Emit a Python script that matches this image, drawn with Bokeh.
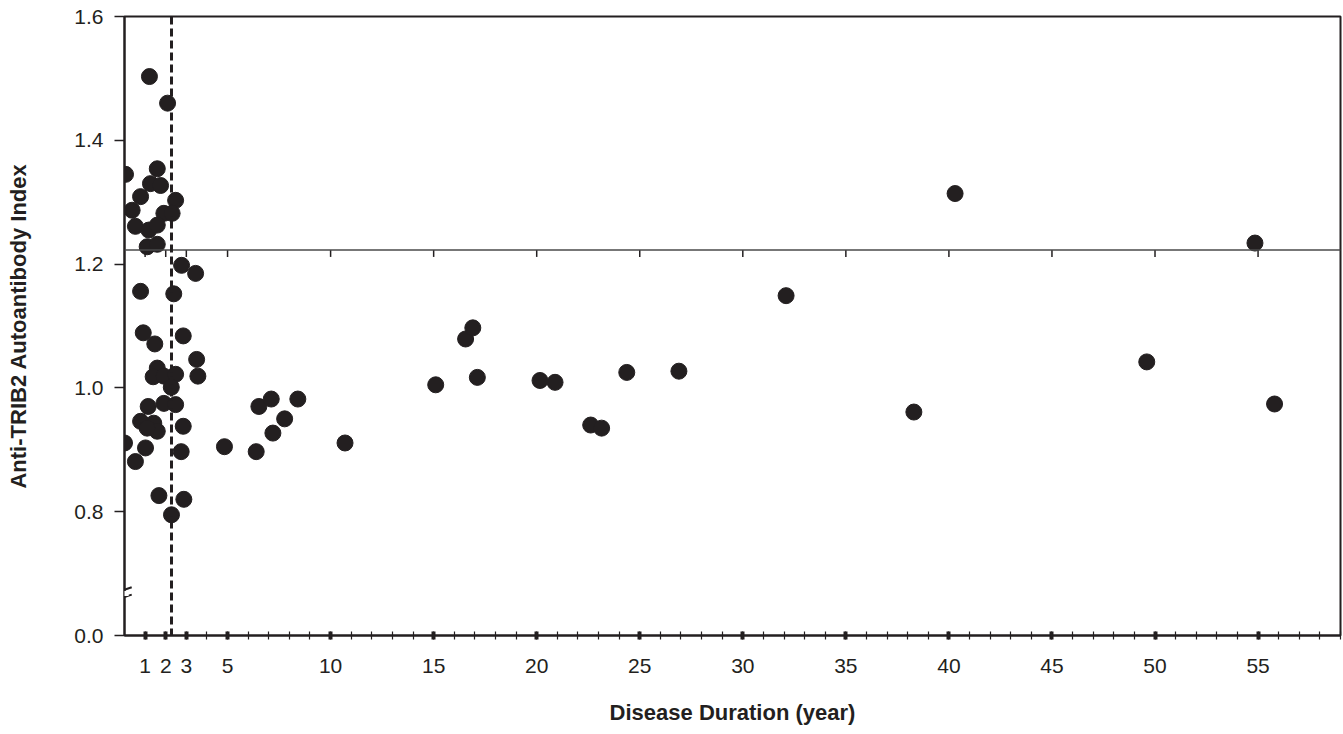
from bokeh.plotting import figure
from bokeh.models import FixedTicker, Span, Arrow, BoxAnnotation
from bokeh.embed import file_html
from bokeh.resources import INLINE

# ---- data ----
duration_years = [
    0.05, 1.59, 1.26, 1.75, 0.78, 2.48, 0.37, 1.91, 2.31, 0.53, 1.18, 1.59, 1.10, 1.59, 1.21, 2.09,
    2.77, 3.45, 0.78, 2.39, 0.91, 1.47, 2.85, 3.50, 3.56, 1.59, 1.39, 1.91, 2.48, 2.27,
    1.91, 2.48, 1.15, 0.78, 1.42, 1.59, 1.10, 2.85, 0.00, 1.02, 0.53, 2.75, 1.67, 2.88, 2.28,
    4.85, 6.39, 6.52, 7.12, 8.41, 7.77, 7.20, 10.7, 15.1, 16.55, 16.9, 17.12, 20.16, 20.89,
    22.62, 23.15, 24.37, 26.9, 32.1, 38.3, 40.3, 49.6, 54.85, 55.8,
]
antibody_index = [
    1.345, 1.354, 1.330, 1.327, 1.309, 1.303, 1.287, 1.282, 1.282, 1.261, 1.255, 1.263, 1.228, 1.232, 1.503, 1.460,
    1.198, 1.185, 1.156, 1.152, 1.089, 1.071, 1.084, 1.046, 1.019, 1.032, 1.018, 1.019, 1.022, 1.001,
    0.975, 0.973, 0.970, 0.946, 0.943, 0.930, 0.935, 0.938, 0.911, 0.903, 0.881, 0.897, 0.826, 0.820, 0.795,
    0.905, 0.897, 0.970, 0.982, 0.982, 0.950, 0.927, 0.911, 1.005, 1.079, 1.097, 1.017, 1.012, 1.009,
    0.940, 0.935, 1.025, 1.027, 1.149, 0.961, 1.314, 1.042, 1.234, 0.974,
]
x_major_ticks = [1, 2, 3, 5, 10, 15, 20, 25, 30, 35, 40, 45, 50, 55]
x_minor_ticks = list(range(1, 60))
# the axis is broken below 0.8: its bottom (0.6 on the drawing scale) is labelled 0.0
y_ticks = [0.6, 0.8, 1.0, 1.2, 1.4, 1.6]
y_tick_labels = ["0.0", "0.8", "1.0", "1.2", "1.4", "1.6"]
cutoff_index = 1.2226
cutoff_duration = 2.28

FONT = "Liberation Sans"
INK = "#231f20"

p = figure(width=1343, height=734, output_backend="svg", toolbar_location=None,
           x_range=(0, 59), y_range=(0.6, 1.6),
           min_border_left=124, min_border_right=3, min_border_top=16, min_border_bottom=99)
p.background_fill_color = "white"
p.border_fill_color = "white"
p.xgrid.visible = False
p.ygrid.visible = False
p.outline_line_color = INK
p.outline_line_width = 2

# x axis
xa = p.xaxis[0]
xa.ticker = FixedTicker(ticks=x_major_ticks, minor_ticks=x_minor_ticks)
xa.axis_line_color = INK
xa.axis_line_width = 2
xa.major_tick_in = 4
xa.major_tick_out = 4
xa.major_tick_line_width = 4
xa.major_tick_line_color = INK
xa.minor_tick_in = 4
xa.minor_tick_out = 4
xa.minor_tick_line_width = 1.2
xa.minor_tick_line_color = INK
xa.major_label_standoff = 19
xa.major_label_text_font = FONT
xa.major_label_text_font_size = "21px"
xa.major_label_text_color = INK
xa.axis_label = "Disease Duration (year)"
xa.axis_label_text_font = FONT
xa.axis_label_text_font_size = "22px"
xa.axis_label_text_font_style = "bold"
xa.axis_label_text_color = INK
xa.axis_label_standoff = 24

# y axis
ya = p.yaxis[0]
ya.ticker = FixedTicker(ticks=y_ticks, minor_ticks=[])
ya.major_label_overrides = {t: s for t, s in zip(y_ticks, y_tick_labels)}
ya.axis_line_color = INK
ya.axis_line_width = 2
ya.major_tick_in = 0
ya.major_tick_out = 10
ya.major_tick_line_width = 1.5
ya.major_tick_line_color = INK
ya.major_label_standoff = 11
ya.major_label_text_font = FONT
ya.major_label_text_font_size = "21px"
ya.major_label_text_color = INK
ya.axis_label = "Anti-TRIB2 Autoantibody Index"
ya.axis_label_text_font = FONT
ya.axis_label_text_font_size = "22px"
ya.axis_label_text_font_style = "bold"
ya.axis_label_text_color = INK
ya.axis_label_standoff = 40

# cutoff lines
p.add_layout(Span(location=cutoff_index, dimension="width", line_color="#4a4a4a", line_width=1.5))
p.add_layout(Span(location=cutoff_duration, dimension="height", line_color=INK,
                  line_width=3, line_dash="8 4"))

# small ticks hanging under the cutoff line
p.segment(x0=x_major_ticks, x1=x_major_ticks,
          y0=[cutoff_index] * len(x_major_ticks),
          y1=[cutoff_index - 0.011] * len(x_major_ticks),
          line_color=INK, line_width=1.5)

# points
p.scatter(duration_years, antibody_index, size=16, marker="circle",
          fill_color=INK, line_color=INK)

# axis break marks "//"
p.add_layout(BoxAnnotation(left=-0.2, right=0.2, bottom=0.664, top=0.672,
                           fill_color="white", fill_alpha=1, line_color=None, level="overlay"))
for yb in (0.662, 0.674):
    p.add_layout(Arrow(end=None, x_start=-0.35, y_start=yb - 0.004, x_end=0.35, y_end=yb + 0.004,
                       line_color=INK, line_width=2))

open("out.html", "w").write(file_html(p, INLINE))
